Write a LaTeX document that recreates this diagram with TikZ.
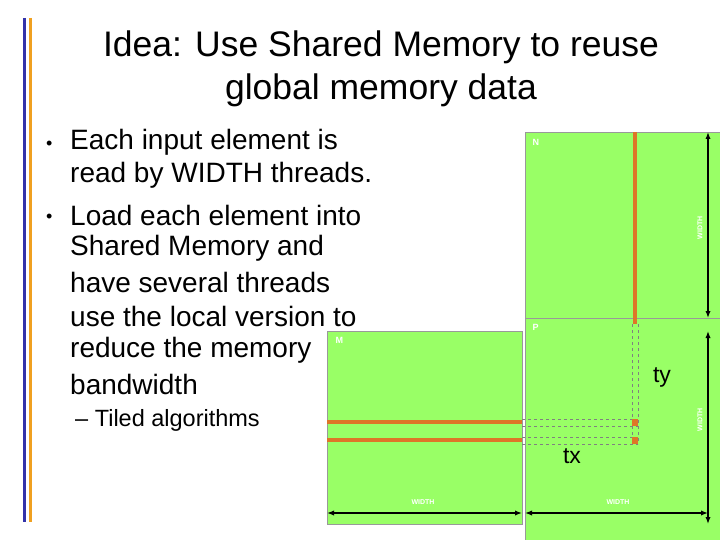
\documentclass[tikz,border=0pt]{standalone}
\usepackage{fontspec}
\setmainfont{Liberation Sans}
\usetikzlibrary{arrows.meta}
\definecolor{gr}{RGB}{153,255,102}
\definecolor{orng}{RGB}{222,118,40}
\definecolor{bbar}{RGB}{51,51,170}
\definecolor{obar}{RGB}{240,160,32}
\tikzset{
 mat/.style={fill=gr,draw=gray!80,line width=0.8pt},
 bar/.style={orng,line width=4pt},
 dsh/.style={gray,dashed,line width=0.5pt},
 dim/.style={{Latex[length=7pt]}-{Latex[length=7pt]},line width=1.3pt},
 wl/.style={white,font=\fontsize{7}{8}\selectfont\bfseries},
 ml/.style={white,font=\fontsize{9}{10}\selectfont\bfseries,anchor=north west},
 txt/.style={anchor=west,font=\fontsize{28}{32}\selectfont,inner sep=0pt},
 bul/.style={anchor=west,font=\fontsize{18}{20}\selectfont,inner sep=0pt}
}
\begin{document}
\begin{tikzpicture}[x=1pt,y=-1pt]
\useasboundingbox (0,0) rectangle (720,540);
\draw[bbar,line width=3pt] (24,18) -- (24,522);
\draw[obar,line width=3pt] (30,18) -- (30,522);
\node[font=\fontsize{35.5}{43}\selectfont,align=center] (title) at (381,69) {Idea: Use Shared Memory to reuse\\global memory data};
\node[bul] (b1) at (46,145) {•};
\node[txt] (l1) at (70,142) {Each input element is};
\node[txt] (l2) at (70,175) {read by WIDTH threads.};
\node[bul] (b2) at (46,218) {•};
\node[txt] (l3) at (70,215) {Load each element into};
\node[txt] (l4) at (70,248) {Shared Memory and};
\node[txt] (l5) at (70,282) {have several threads};
\node[txt] (l6) at (70,316) {use the local version to};
\node[txt] (l7) at (70,350) {reduce the memory};
\node[txt] (l8) at (70,384) {bandwidth};
\node[txt,font=\fontsize{23.5}{26}\selectfont] (l9) at (75,420) {– Tiled algorithms};
% matrices
\node[mat,minimum width=200,minimum height=186,anchor=north west,inner sep=0] (N) at (525,132) {};
\node[mat,minimum width=200,minimum height=230,anchor=north west,inner sep=0] (P) at (525,318) {};
\node[mat,minimum width=195,minimum height=193,anchor=north west,inner sep=0] (M) at (327,331) {};
\node[ml] (Nl) at (529,136) {N};
\node[ml] (Pl) at (529,321) {P};
\node[ml] (Ml) at (332,334) {M};
% bars
\coordinate (v1) at (635,132); \coordinate (v2) at (635,324);
\draw[bar] (v1) -- (v2);
\coordinate (h1a) at (327,422); \coordinate (h1b) at (522,422);
\coordinate (h2a) at (327,440); \coordinate (h2b) at (522,440);
\draw[bar] (h1a) -- (h1b);
\draw[bar] (h2a) -- (h2b);
\draw[dsh] (522,419) -- (638,419) (522,426) -- (638,426);
\draw[dsh] (522,437) -- (638,437) (522,444) -- (638,444);
\draw[dsh] (632,324) -- (632,444) (638,324) -- (638,444);
\fill[orng] (632,419) rectangle (638,426);
\fill[orng] (632,437) rectangle (638,444);
\node[font=\fontsize{23}{26}\selectfont] (ty) at (662,377) {ty};
\node[font=\fontsize{23}{26}\selectfont] (tx) at (572,456) {tx};
% dimension arrows
\coordinate (a1) at (708,132); \coordinate (a2) at (708,318);
\coordinate (a3) at (708,331); \coordinate (a4) at (708,524);
\coordinate (a5) at (327,513); \coordinate (a6) at (522,513);
\coordinate (a7) at (525,513); \coordinate (a8) at (708,513);
\draw[dim] (a1) -- (a2);
\draw[dim] (a3) -- (a4);
\draw[dim] (a5) -- (a6);
\draw[dim] (a7) -- (a8);
\node[wl,rotate=90] (w1) at (700,228) {WIDTH};
\node[wl,rotate=90] (w2) at (700,420) {WIDTH};
\node[wl] (w3) at (423,502) {WIDTH};
\node[wl] (w4) at (618,502) {WIDTH};
\end{tikzpicture}
\end{document}
